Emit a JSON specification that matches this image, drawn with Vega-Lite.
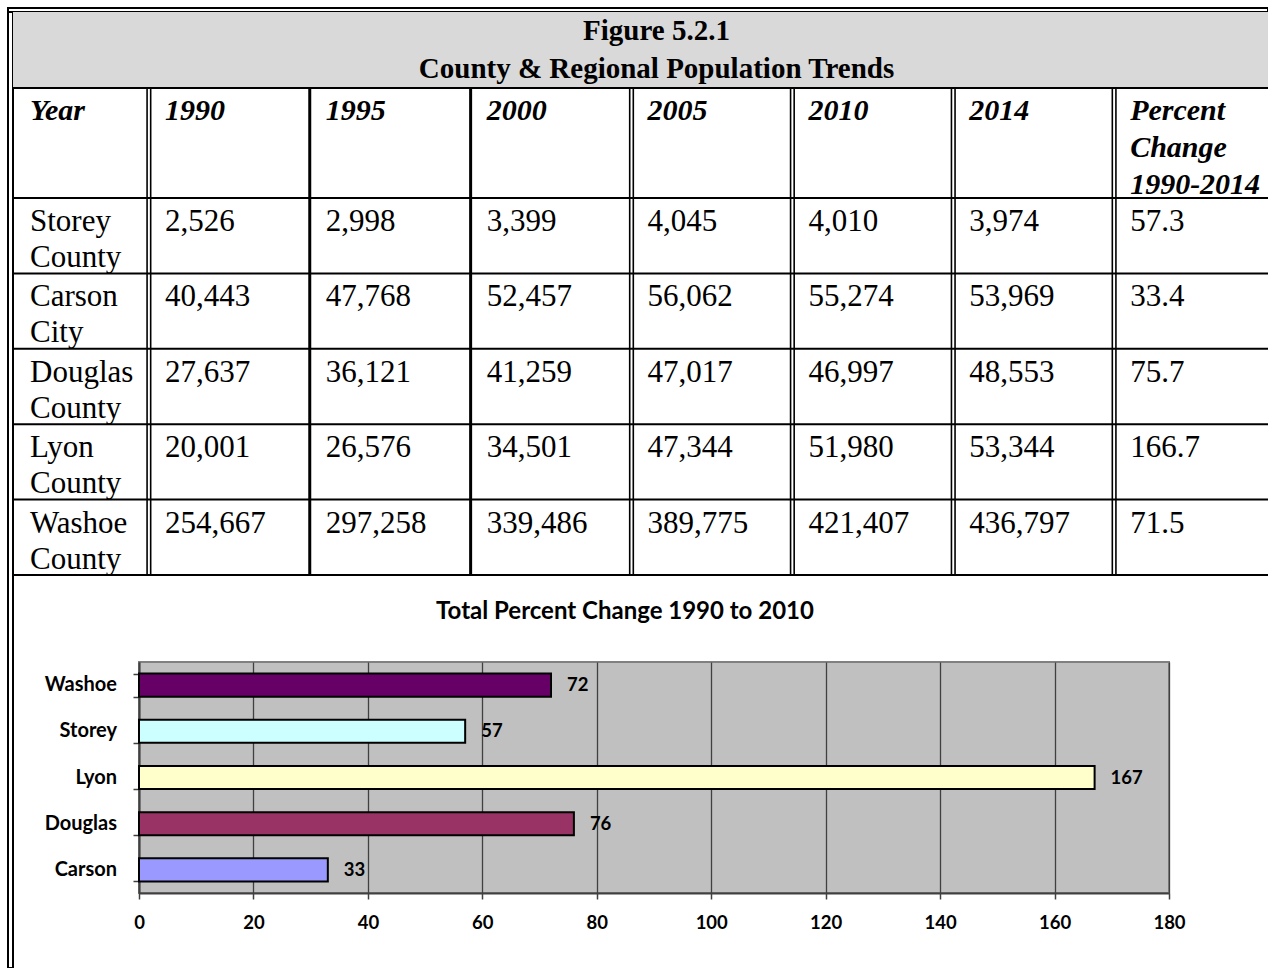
{
  "$schema": "https://vega.github.io/schema/vega-lite/v6.json",
  "padding": {"left": 6, "top": 6, "right": 0, "bottom": 0},
  "background": "white",
  "config": {"view": {"stroke": null}},
  "datasets": {
    "titleLines": [{"line": "Figure 5.2.1"}, {"line": "County & Regional Population Trends"}],
    "columns": [
      {"col": "Year"}, {"col": "1990"}, {"col": "1995"}, {"col": "2000"},
      {"col": "2005"}, {"col": "2010"}, {"col": "2014"}, {"col": "Percent Change 1990-2014"}
    ],
    "counties": [
      {"county": "Storey County", "col": "Year"},
      {"county": "Carson City", "col": "Year"},
      {"county": "Douglas County", "col": "Year"},
      {"county": "Lyon County", "col": "Year"},
      {"county": "Washoe County", "col": "Year"}
    ],
    "cells": [
      {"county": "Storey County", "col": "1990", "value": 2526},
      {"county": "Storey County", "col": "1995", "value": 2998},
      {"county": "Storey County", "col": "2000", "value": 3399},
      {"county": "Storey County", "col": "2005", "value": 4045},
      {"county": "Storey County", "col": "2010", "value": 4010},
      {"county": "Storey County", "col": "2014", "value": 3974},
      {"county": "Storey County", "col": "Percent Change 1990-2014", "value": 57.3},
      {"county": "Carson City", "col": "1990", "value": 40443},
      {"county": "Carson City", "col": "1995", "value": 47768},
      {"county": "Carson City", "col": "2000", "value": 52457},
      {"county": "Carson City", "col": "2005", "value": 56062},
      {"county": "Carson City", "col": "2010", "value": 55274},
      {"county": "Carson City", "col": "2014", "value": 53969},
      {"county": "Carson City", "col": "Percent Change 1990-2014", "value": 33.4},
      {"county": "Douglas County", "col": "1990", "value": 27637},
      {"county": "Douglas County", "col": "1995", "value": 36121},
      {"county": "Douglas County", "col": "2000", "value": 41259},
      {"county": "Douglas County", "col": "2005", "value": 47017},
      {"county": "Douglas County", "col": "2010", "value": 46997},
      {"county": "Douglas County", "col": "2014", "value": 48553},
      {"county": "Douglas County", "col": "Percent Change 1990-2014", "value": 75.7},
      {"county": "Lyon County", "col": "1990", "value": 20001},
      {"county": "Lyon County", "col": "1995", "value": 26576},
      {"county": "Lyon County", "col": "2000", "value": 34501},
      {"county": "Lyon County", "col": "2005", "value": 47344},
      {"county": "Lyon County", "col": "2010", "value": 51980},
      {"county": "Lyon County", "col": "2014", "value": 53344},
      {"county": "Lyon County", "col": "Percent Change 1990-2014", "value": 166.7},
      {"county": "Washoe County", "col": "1990", "value": 254667},
      {"county": "Washoe County", "col": "1995", "value": 297258},
      {"county": "Washoe County", "col": "2000", "value": 339486},
      {"county": "Washoe County", "col": "2005", "value": 389775},
      {"county": "Washoe County", "col": "2010", "value": 421407},
      {"county": "Washoe County", "col": "2014", "value": 436797},
      {"county": "Washoe County", "col": "Percent Change 1990-2014", "value": 71.5}
    ],
    "chart": [
      {"county": "Washoe", "pct": 72},
      {"county": "Storey", "pct": 57},
      {"county": "Lyon", "pct": 167},
      {"county": "Douglas", "pct": 76},
      {"county": "Carson", "pct": 33}
    ]
  },
  "spacing": 0,
  "bounds": "flush",
  "vconcat": [
    {
      "width": 1260, "height": 4,
      "view": {"fill": "white", "stroke": "black", "strokeWidth": 2},
      "data": {"name": "titleLines"},
      "mark": {"type": "point", "opacity": 0},
      "encoding": {}
    },
    {
      "spacing": 0,
      "bounds": "flush",
      "hconcat": [
        {
          "width": 5, "height": 956,
          "view": {"fill": "white", "stroke": "black", "strokeWidth": 2},
          "data": {"name": "titleLines"},
          "mark": {"type": "point", "opacity": 0},
          "encoding": {}
        },
        {
          "spacing": 22,
          "columns": 1,
          "align": "none",
          "concat": [
            {
              "spacing": 0,
              "bounds": "flush",
              "vconcat": [
                {
                  "width": 1255, "height": 76,
                  "view": {"fill": "#d9d9d9"},
                  "data": {"name": "titleLines"},
                  "layer": [
                    {
                      "mark": {"type": "text", "font": "Liberation Serif", "fontSize": 29, "fontWeight": "bold", "baseline": "middle", "dx": 16, "color": "black"},
                      "encoding": {
                        "y": {"field": "line", "type": "nominal", "sort": null, "axis": null, "scale": {"type": "band", "paddingInner": 0, "paddingOuter": 0}},
                        "text": {"field": "line"}
                      }
                    },
                    {
                      "transform": [{"filter": "datum.line !== 'Figure 5.2.1'"}],
                      "mark": {"type": "rule", "color": "black", "strokeWidth": 2},
                      "encoding": {
                        "y": {"field": "line", "type": "nominal", "sort": null, "bandPosition": 1, "axis": null}
                      }
                    }
                  ]
                },
                {
                  "width": 1255, "height": 110,
                  "data": {"name": "columns"},
                  "layer": [
                    {
                      "transform": [{"filter": "datum.col !== 'Year'"}],
                      "mark": {"type": "text", "font": "Liberation Serif", "fontSize": 30, "fontWeight": "bold", "fontStyle": "italic", "align": "left", "baseline": "alphabetic", "lineBreak": " ", "lineHeight": 37, "dx": 16, "dy": -23, "color": "black"},
                      "encoding": {
                        "x": {"field": "col", "type": "nominal", "bandPosition": 0, "axis": null, "scale": {"type": "band", "domain": ["Year", "1990", "1995", "2000", "2005", "2010", "2014", "Percent Change 1990-2014"], "range": [-25, 1262], "paddingInner": 0, "paddingOuter": 0}},
                        "text": {"field": "col"}
                      }
                    },
                    {
                      "transform": [{"filter": "datum.col === 'Year'"}],
                      "mark": {"type": "text", "font": "Liberation Serif", "fontSize": 30, "fontWeight": "bold", "fontStyle": "italic", "align": "left", "baseline": "alphabetic", "dx": 42, "dy": -23, "color": "black"},
                      "encoding": {
                        "x": {"field": "col", "type": "nominal", "bandPosition": 0, "axis": null},
                        "text": {"field": "col"}
                      }
                    },
                    {
                      "transform": [{"filter": "indexof(['1995','2000'], datum.col) >= 0"}],
                      "mark": {"type": "rule", "color": "black", "strokeWidth": 3},
                      "encoding": {"x": {"field": "col", "type": "nominal", "bandPosition": 0, "axis": null}}
                    },
                    {
                      "transform": [{"filter": "indexof(['1990','2005','2010','2014','Percent Change 1990-2014'], datum.col) >= 0"}],
                      "mark": {"type": "rule", "color": "black", "strokeWidth": 1.6, "xOffset": -1.8},
                      "encoding": {"x": {"field": "col", "type": "nominal", "bandPosition": 0, "axis": null}}
                    },
                    {
                      "transform": [{"filter": "indexof(['1990','2005','2010','2014','Percent Change 1990-2014'], datum.col) >= 0"}],
                      "mark": {"type": "rule", "color": "black", "strokeWidth": 1.6, "xOffset": 1.8},
                      "encoding": {"x": {"field": "col", "type": "nominal", "bandPosition": 0, "axis": null}}
                    }
                  ]
                },
                {
                  "width": 1255, "height": 377,
                  "layer": [
                    {
                      "data": {"name": "cells"},
                      "mark": {"type": "text", "font": "Liberation Serif", "fontSize": 31, "align": "left", "baseline": "alphabetic", "dx": 16, "dy": 33, "color": "black"},
                      "encoding": {
                        "x": {"field": "col", "type": "nominal", "bandPosition": 0, "axis": null, "scale": {"type": "band", "domain": ["Year", "1990", "1995", "2000", "2005", "2010", "2014", "Percent Change 1990-2014"], "range": [-25, 1262], "paddingInner": 0, "paddingOuter": 0}},
                        "y": {"field": "county", "type": "nominal", "bandPosition": 0, "axis": null, "scale": {"type": "band", "domain": ["Storey County", "Carson City", "Douglas County", "Lyon County", "Washoe County"], "paddingInner": 0, "paddingOuter": 0}},
                        "text": {"field": "value", "type": "quantitative", "format": ","}
                      }
                    },
                    {
                      "data": {"name": "counties"},
                      "mark": {"type": "text", "font": "Liberation Serif", "fontSize": 31, "align": "left", "baseline": "alphabetic", "lineBreak": " ", "lineHeight": 36, "dx": 42, "dy": 33, "color": "black"},
                      "encoding": {
                        "x": {"field": "col", "type": "nominal", "bandPosition": 0, "axis": null},
                        "y": {"field": "county", "type": "nominal", "bandPosition": 0, "axis": null},
                        "text": {"field": "county"}
                      }
                    },
                    {
                      "data": {"name": "counties"},
                      "mark": {"type": "rule", "color": "black", "strokeWidth": 2},
                      "encoding": {"y": {"field": "county", "type": "nominal", "bandPosition": 0, "axis": null}}
                    },
                    {
                      "data": {"name": "counties"},
                      "transform": [{"filter": "datum.county === 'Washoe County'"}],
                      "mark": {"type": "rule", "color": "black", "strokeWidth": 2},
                      "encoding": {"y": {"field": "county", "type": "nominal", "bandPosition": 1, "axis": null}}
                    },
                    {
                      "data": {"name": "columns"},
                      "transform": [{"filter": "indexof(['1995','2000'], datum.col) >= 0"}],
                      "mark": {"type": "rule", "color": "black", "strokeWidth": 3},
                      "encoding": {"x": {"field": "col", "type": "nominal", "bandPosition": 0, "axis": null}}
                    },
                    {
                      "data": {"name": "columns"},
                      "transform": [{"filter": "indexof(['1990','2005','2010','2014','Percent Change 1990-2014'], datum.col) >= 0"}],
                      "mark": {"type": "rule", "color": "black", "strokeWidth": 1.6, "xOffset": -1.8},
                      "encoding": {"x": {"field": "col", "type": "nominal", "bandPosition": 0, "axis": null}}
                    },
                    {
                      "data": {"name": "columns"},
                      "transform": [{"filter": "indexof(['1990','2005','2010','2014','Percent Change 1990-2014'], datum.col) >= 0"}],
                      "mark": {"type": "rule", "color": "black", "strokeWidth": 1.6, "xOffset": 1.8},
                      "encoding": {"x": {"field": "col", "type": "nominal", "bandPosition": 0, "axis": null}}
                    }
                  ]
                }
              ]
            },
            {
              "spacing": 0,
              "bounds": "flush",
              "hconcat": [
                {
                  "width": 126, "height": 231,
                  "data": {"name": "chart"},
                  "mark": {"type": "text", "align": "right", "baseline": "middle", "dx": 41, "font": "Lato", "fontWeight": "bold", "fontSize": 20, "color": "black"},
                  "encoding": {
                    "y": {"field": "county", "type": "nominal", "sort": ["Washoe", "Storey", "Lyon", "Douglas", "Carson"], "axis": null, "scale": {"type": "band", "paddingInner": 0.5, "paddingOuter": 0.25}},
                    "text": {"field": "county"}
                  }
                },
                {
                  "width": 1030, "height": 231,
                  "title": {"text": "Total Percent Change 1990 to 2010", "font": "Lato", "fontSize": 24, "fontWeight": "bold", "color": "black", "anchor": "middle", "frame": "group", "dx": -29, "offset": 38},
                  "view": {"fill": "#c0c0c0", "stroke": "#808080", "strokeWidth": 2},
                  "data": {"name": "chart"},
                  "encoding": {
                    "y": {
                      "field": "county", "type": "nominal",
                      "sort": ["Washoe", "Storey", "Lyon", "Douglas", "Carson"],
                      "scale": {"paddingInner": 0.5, "paddingOuter": 0.25},
                      "axis": {"title": null, "labels": false, "domainColor": "#404040", "domainWidth": 2, "tickColor": "#404040", "tickSize": 6, "tickWidth": 1.5, "tickBand": "extent", "grid": false}
                    },
                    "x": {
                      "field": "pct", "type": "quantitative",
                      "scale": {"domain": [0, 180], "nice": false},
                      "axis": {"title": null, "values": [0, 20, 40, 60, 80, 100, 120, 140, 160, 180], "grid": true, "gridColor": "#404040", "gridWidth": 1.3, "domainColor": "#404040", "domainWidth": 2, "tickColor": "#404040", "tickSize": 6, "tickWidth": 1.5, "labelFont": "Lato", "labelFontWeight": "bold", "labelFontSize": 18.5, "labelColor": "black", "labelPadding": 14, "labelFlush": false}
                    }
                  },
                  "layer": [
                    {
                      "mark": {"type": "bar", "stroke": "black", "strokeWidth": 2},
                      "encoding": {
                        "color": {"field": "county", "type": "nominal", "legend": null, "scale": {"domain": ["Washoe", "Storey", "Lyon", "Douglas", "Carson"], "range": ["#660066", "#ccffff", "#ffffcc", "#993366", "#9999ff"]}}
                      }
                    },
                    {
                      "mark": {"type": "text", "align": "left", "baseline": "middle", "dx": 16, "font": "Lato", "fontWeight": "bold", "fontSize": 18.5, "color": "black"},
                      "encoding": {"text": {"field": "pct", "type": "quantitative"}}
                    }
                  ]
                }
              ]
            }
          ]
        }
      ]
    }
  ]
}
